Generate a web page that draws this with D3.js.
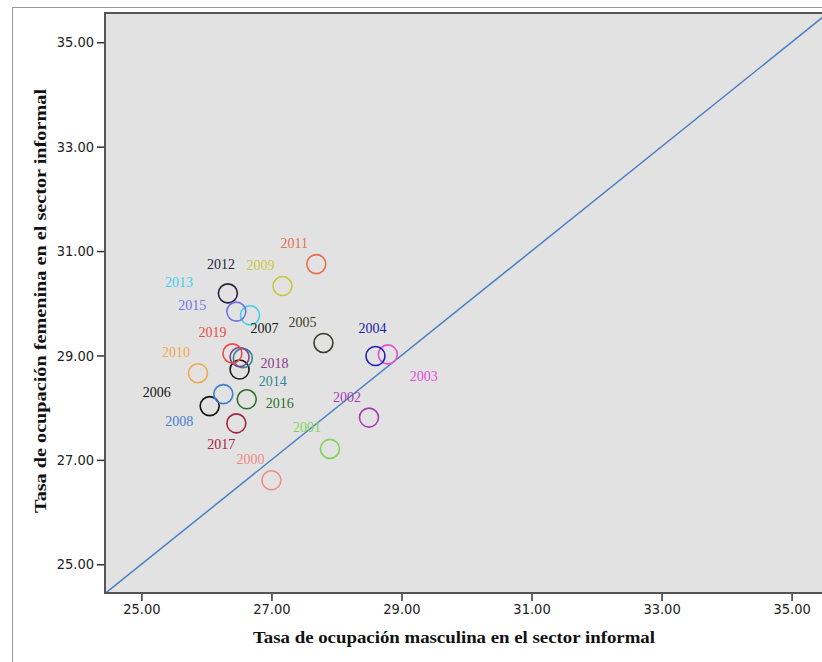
<!DOCTYPE html>
<html>
<head>
<meta charset="utf-8">
<script src="https://cdn.jsdelivr.net/npm/d3@7"></script>
<style>
  body { margin: 0; background: #fff; }
  svg { display: block; }
</style>
</head>
<body>
<div id="d3-container"></div>
<script>
/**
 * DATA
 * */
const years = [2000, 2001, 2002, 2003, 2004, 2005, 2006, 2007, 2008, 2009,
  2010, 2011, 2012, 2013, 2014, 2015, 2016, 2017, 2018, 2019];
// tasa de ocupación masculina (x) y femenina (y) en el sector informal
const masculina = [27.00, 27.90, 28.50, 28.79, 28.60, 27.80, 26.05, 26.51, 26.26, 27.17,
  25.87, 27.69, 26.33, 26.67, 26.56, 26.46, 26.62, 26.46, 26.51, 26.40];
const femenina = [26.61, 27.21, 27.81, 29.02, 28.99, 29.24, 28.03, 28.73, 28.26, 30.33,
  28.66, 30.75, 30.19, 29.77, 28.95, 29.84, 28.16, 27.70, 28.97, 29.04];
const tickValues = [25, 27, 29, 31, 33, 35];

/**
 * CONSTANTS AND GLOBALS
 * */
const width = 822,
  height = 662,
  plot = { left: 105, top: 13, right: 830, bottom: 593 };

const colors = ["#f08a84", "#7fd35a", "#a83cb4", "#e44fd8", "#2020b0", "#3c3c22",
  "#141414", "#1a1a1a", "#3f7fd4", "#c9c83a", "#f0a84a", "#e8704e", "#28223c",
  "#3ccfee", "#2e8a92", "#7474e6", "#2d6e2a", "#a62443", "#8c3c8c", "#ea4a4a"];

// label offsets from each circle (px), as placed in the original chart
const labelOffsets = [[-21, -21], [-23, -21], [-22, -20], [36, 22], [-3, -27], [-21, -20],
  [-53, -14], [25, -41], [-44, 27], [-22, -21], [-22, -21], [-22, -21], [-7, -29],
  [-71, -33], [30, 23], [-44, -6], [33, 4], [-15, 21], [35, 6], [-20, -21]];

const data = years.map((d, i) => ({
  year: d,
  x: masculina[i],
  y: femenina[i],
  color: colors[i],
  off: labelOffsets[i],
}));

const svg = d3.select("#d3-container")
  .append("svg")
  .attr("width", width)
  .attr("height", height);

// + SCALES
const xScale = d3.scaleLinear()
  .domain([24.44, 35.56])
  .range([plot.left, 828]);

const yScale = d3.scaleLinear()
  .domain([24.45, 35.56])
  .range([plot.bottom, plot.top]);

// outer frame
svg.append("rect")
  .attr("x", 12.5)
  .attr("y", 7.5)
  .attr("width", 830)
  .attr("height", 680)
  .attr("fill", "none")
  .attr("stroke", "#9a9a9a")
  .attr("stroke-width", 1);

// plot background
svg.append("rect")
  .attr("x", plot.left)
  .attr("y", plot.top)
  .attr("width", plot.right - plot.left)
  .attr("height", plot.bottom - plot.top)
  .attr("fill", "#e2e2e2");

svg.append("clipPath")
  .attr("id", "clip")
  .append("rect")
  .attr("x", plot.left)
  .attr("y", plot.top)
  .attr("width", plot.right - plot.left)
  .attr("height", plot.bottom - plot.top);

// reference line y = x
svg.append("line")
  .attr("clip-path", "url(#clip)")
  .attr("x1", xScale(24.44))
  .attr("y1", yScale(24.44))
  .attr("x2", xScale(36))
  .attr("y2", yScale(36))
  .attr("stroke", "#4a80c4")
  .attr("stroke-width", 1.5);

// + AXES
const xAxis = d3.axisBottom(xScale)
  .tickValues(tickValues)
  .tickFormat(d3.format(".2f"))
  .tickSize(8)
  .tickPadding(3);

const yAxis = d3.axisLeft(yScale)
  .tickValues(tickValues)
  .tickFormat(d3.format(".2f"))
  .tickSize(8)
  .tickPadding(3);

const gx = svg.append("g")
  .attr("transform", `translate(0,${plot.bottom})`)
  .call(xAxis);

const gy = svg.append("g")
  .attr("transform", `translate(${plot.left},0)`)
  .call(yAxis);

[gx, gy].forEach(g => {
  g.select(".domain").remove();
  g.selectAll(".tick line").attr("stroke", "#333").attr("stroke-width", 1.5);
  g.selectAll(".tick text")
    .attr("fill", "#222")
    .style("font-family", "'Liberation Sans Narrow', 'DejaVu Sans Condensed', sans-serif")
    .style("font-size", "14.5px");
});

// plot frame (left, top, bottom)
svg.append("path")
  .attr("d", `M${plot.right},${plot.top}H${plot.left}V${plot.bottom}H${plot.right}`)
  .attr("fill", "none")
  .attr("stroke", "#555")
  .attr("stroke-width", 2);

// + POINTS
svg.selectAll("circle.pt")
  .data(data)
  .join("circle")
  .attr("class", "pt")
  .attr("cx", d => xScale(d.x))
  .attr("cy", d => yScale(d.y))
  .attr("r", 9.5)
  .attr("fill", "none")
  .attr("stroke", d => d.color)
  .attr("stroke-width", 1.6);

svg.selectAll("text.lbl")
  .data(data)
  .join("text")
  .attr("class", "lbl")
  .attr("x", d => xScale(d.x) + d.off[0])
  .attr("y", d => yScale(d.y) + d.off[1])
  .attr("text-anchor", "middle")
  .attr("dominant-baseline", "central")
  .attr("fill", d => d.color)
  .style("font-family", "'Liberation Serif', 'Times New Roman', serif")
  .style("font-size", "14px")
  .text(d => d.year);

// + AXIS TITLES
svg.append("text")
  .attr("x", 454)
  .attr("y", 643)
  .attr("text-anchor", "middle")
  .attr("textLength", 402)
  .attr("lengthAdjust", "spacingAndGlyphs")
  .style("font-family", "'Liberation Serif', 'Times New Roman', serif")
  .style("font-weight", "bold")
  .style("font-size", "17px")
  .attr("fill", "#111")
  .text("Tasa de ocupación masculina en el sector informal");

svg.append("text")
  .attr("transform", "translate(46,301) rotate(-90)")
  .attr("text-anchor", "middle")
  .attr("textLength", 424)
  .attr("lengthAdjust", "spacingAndGlyphs")
  .style("font-family", "'Liberation Serif', 'Times New Roman', serif")
  .style("font-weight", "bold")
  .style("font-size", "17px")
  .attr("fill", "#111")
  .text("Tasa de ocupación femenina en el sector informal");
</script>
</body>
</html>
